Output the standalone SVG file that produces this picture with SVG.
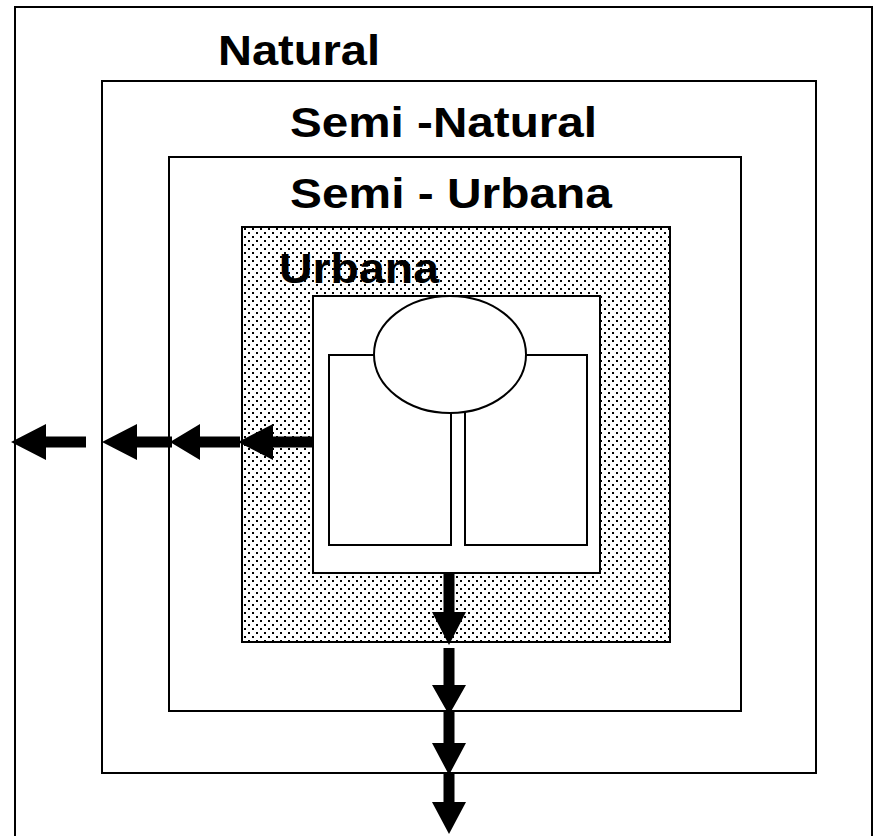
<svg xmlns="http://www.w3.org/2000/svg" width="881" height="836" viewBox="0 0 881 836">
<style>
.zone{fill:none;stroke:#000;stroke-width:2}
.white{fill:#fff;stroke:#000;stroke-width:2}
.lbl{font-family:"Liberation Sans",Arial,sans-serif;font-weight:bold;font-size:43px;fill:#000}
.arr{fill:#000;stroke:none}
</style>
<defs>
<pattern id="dots" width="8" height="8" patternUnits="userSpaceOnUse">
<rect width="8" height="8" fill="#fff"/>
<rect x="0" y="0" width="2" height="2" fill="#000"/>
<rect x="4" y="4" width="2" height="2" fill="#000"/>
</pattern>
</defs>
<rect width="881" height="836" fill="#fff"/>
<g id="natural">
<rect class="zone" x="15" y="7" width="857" height="840"/>
<text class="lbl" x="218" y="65" textLength="162" lengthAdjust="spacingAndGlyphs">Natural</text>
</g>
<g id="semi-natural">
<rect class="zone" x="102" y="81" width="714" height="692"/>
<text class="lbl" x="290" y="137" textLength="307" lengthAdjust="spacingAndGlyphs">Semi -Natural</text>
</g>
<g id="semi-urbana">
<rect class="zone" x="169" y="157" width="572" height="554"/>
<text class="lbl" x="290" y="208" textLength="322" lengthAdjust="spacingAndGlyphs">Semi - Urbana</text>
</g>
<g id="urbana">
<rect x="242" y="227" width="428" height="415" fill="url(#dots)" stroke="#000" stroke-width="2"/>
<text class="lbl" x="279" y="283" textLength="160" lengthAdjust="spacingAndGlyphs">Urbana</text>
</g>
<g id="core">
<rect class="white" x="313" y="296" width="287" height="277"/>
<rect class="white" x="329" y="355" width="122" height="190"/>
<rect class="white" x="465" y="355" width="122" height="190"/>
<ellipse class="white" cx="450" cy="354.5" rx="76" ry="58.5"/>
</g>
<g id="connectors">
<polygon class="arr" points="11,442 46,424 46,436.5 86,436.5 86,447.5 46,447.5 46,460"/>
<polygon class="arr" points="102,442 137,424 137,436.5 172,436.5 172,447.5 137,447.5 137,460"/>
<polygon class="arr" points="170,442 200,424 200,436.5 240,436.5 240,447.5 200,447.5 200,460"/>
<polygon class="arr" points="238,442 273,424 273,436.5 313,436.5 313,447.5 273,447.5 273,460"/>
<polygon class="arr" points="443.5,573 454.5,573 454.5,612 466,612 449,645 432,612 443.5,612"/>
<polygon class="arr" points="443.5,648 454.5,648 454.5,685 466,685 449,715 432,685 443.5,685"/>
<polygon class="arr" points="443.5,712 454.5,712 454.5,743 466,743 449,775 432,743 443.5,743"/>
<polygon class="arr" points="443.5,773 454.5,773 454.5,802 466,802 449,834 432,802 443.5,802"/>
</g>
</svg>
